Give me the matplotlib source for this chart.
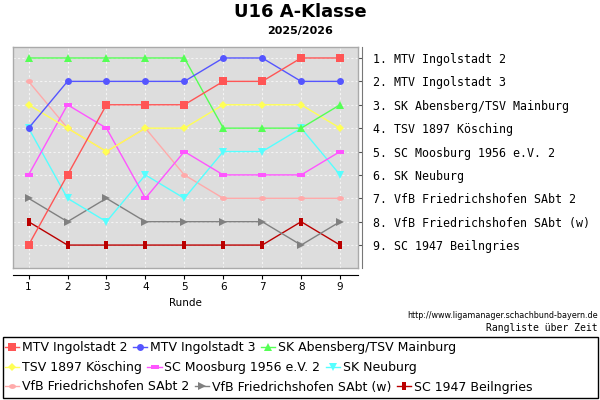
import numpy as np
import matplotlib
matplotlib.use('Agg')
import matplotlib.pyplot as plt
from matplotlib.lines import Line2D
from matplotlib.patches import Rectangle

rounds = [1, 2, 3, 4, 5, 6, 7, 8, 9]
teams = ['MTV Ingolstadt 2', 'MTV Ingolstadt 3', 'SK Abensberg/TSV Mainburg',
         'TSV 1897 Kösching', 'SC Moosburg 1956 e.V. 2', 'SK Neuburg',
         'VfB Friedrichshofen SAbt 2', 'VfB Friedrichshofen SAbt (w)', 'SC 1947 Beilngries']
mtv2 = [9, 6, 3, 3, 3, 2, 2, 1, 1]
mtv3 = [4, 2, 2, 2, 2, 1, 1, 2, 2]
abensberg = [1, 1, 1, 1, 1, 4, 4, 4, 3]
koesching = [3, 4, 5, 4, 4, 3, 3, 3, 4]
moosburg = [6, 3, 4, 7, 5, 6, 6, 6, 5]
neuburg = [4, 7, 8, 6, 7, 5, 5, 4, 6]
vfb2 = [2, 4, 5, 4, 6, 7, 7, 7, 7]
vfbw = [7, 8, 7, 8, 8, 8, 8, 9, 8]
beilngries = [8, 9, 9, 9, 9, 9, 9, 8, 9]
final_rank = [1, 2, 3, 4, 5, 6, 7, 8, 9]

series = [mtv2, mtv3, abensberg, koesching, moosburg, neuburg, vfb2, vfbw, beilngries]
colors = ['#ff5555', '#5555ff', '#55ff55', '#ffff55', '#ff55ff', '#55ffff',
          '#ffaaaa', '#808080', '#bb0000']

wide_rect = [(-1, -0.6), (1, -0.6), (1, 0.6), (-1, 0.6)]
tall_rect = [(-0.5, -1), (0.5, -1), (0.5, 1), (-0.5, 1)]
t = np.linspace(0, 2 * np.pi, 30)
ellipse = list(zip(np.cos(t), 0.7 * np.sin(t)))
markers = ['s', 'o', '^', 'D', wide_rect, 'v', ellipse, '>', tall_rect]
msizes = [5.2, 5, 5.8, 4.2, 5.2, 5.8, 5, 5.8, 5.4]

fig = plt.figure(figsize=(6, 4), dpi=100)
ax = fig.add_axes([13 / 600, 1 - 268 / 400, 345 / 600, 221 / 400])
ax.set_facecolor('#dddddd')
for s in ax.spines.values():
    s.set_color('#aaaaaa')
    s.set_linewidth(1)

n = len(series)
for i, (vals, c, m, ms) in enumerate(zip(series, colors, markers, msizes)):
    ax.plot(rounds, vals, color=c, marker=m, markersize=ms, markeredgewidth=0,
            linewidth=1, zorder=10 + n - i)

ax.set_xlim(0.6, 9.46)
ax.set_ylim(9.98, 0.53)
ax.set_xticks(rounds)
ax.set_yticks(final_rank)
ax.tick_params(length=0, labelbottom=False, labelleft=False)
ax.grid(True, color='#f4f4f4', linestyle=(0, (2, 2)), linewidth=0.8)
ax.set_axisbelow(True)

# bottom axis, set off below the plot
xax = ax.secondary_xaxis(-0.032)
xax.set_xticks(rounds)
xax.tick_params(length=3, width=0.8, labelsize=7.5, pad=2)
xax.spines['bottom'].set_linewidth(0.8)
xax.set_xlabel('Runde', fontsize=7.5, labelpad=4)

# ranking list on the right
yax = ax.secondary_yaxis(1.012)
yax.set_yticks(final_rank)
yax.set_yticklabels([f'{r}. {name}' for r, name in zip(final_rank, teams)],
                    family='DejaVu Sans Mono', fontsize=8.4)
yax.tick_params(direction='in', length=3, width=0.8, pad=8, colors='#555555',
                labelcolor='black')
yax.spines['right'].set_color('#777777')

fig.text(0.5, 1 - 12 / 400, 'U16 A-Klasse', ha='center', va='center',
         fontsize=13, fontweight='bold')
fig.text(0.5, 1 - 31 / 400, '2025/2026', ha='center', va='center',
         fontsize=8, fontweight='bold')
fig.text(598 / 600, 1 - 316 / 400, 'http://www.ligamanager.schachbund-bayern.de',
         ha='right', va='center', fontsize=5.8)
fig.text(598 / 600, 1 - 328 / 400, 'Rangliste über Zeit', ha='right', va='center',
         family='DejaVu Sans Mono', fontsize=7)

# legend, three rows in flow layout
handles = [Line2D([0], [0], color=c, marker=m, markersize=ms,
                  markeredgewidth=0, linewidth=1)
           for c, m, ms in zip(colors, markers, msizes)]
row_y = [348, 368, 387]
for r in range(3):
    leg = fig.legend(handles[3 * r:3 * r + 3], teams[3 * r:3 * r + 3], ncol=3,
                     loc='center left', bbox_to_anchor=(5 / 600, 1 - row_y[r] / 400),
                     frameon=False, fontsize=9, handlelength=1.15,
                     handletextpad=0.2, columnspacing=0.45, borderpad=0,
                     borderaxespad=0)
fig.patches.append(Rectangle((3 / 600, 2 / 400), 595 / 600, 61 / 400,
                             transform=fig.transFigure, fill=False,
                             edgecolor='black', linewidth=1))

fig.savefig('out.png', dpi=100)
